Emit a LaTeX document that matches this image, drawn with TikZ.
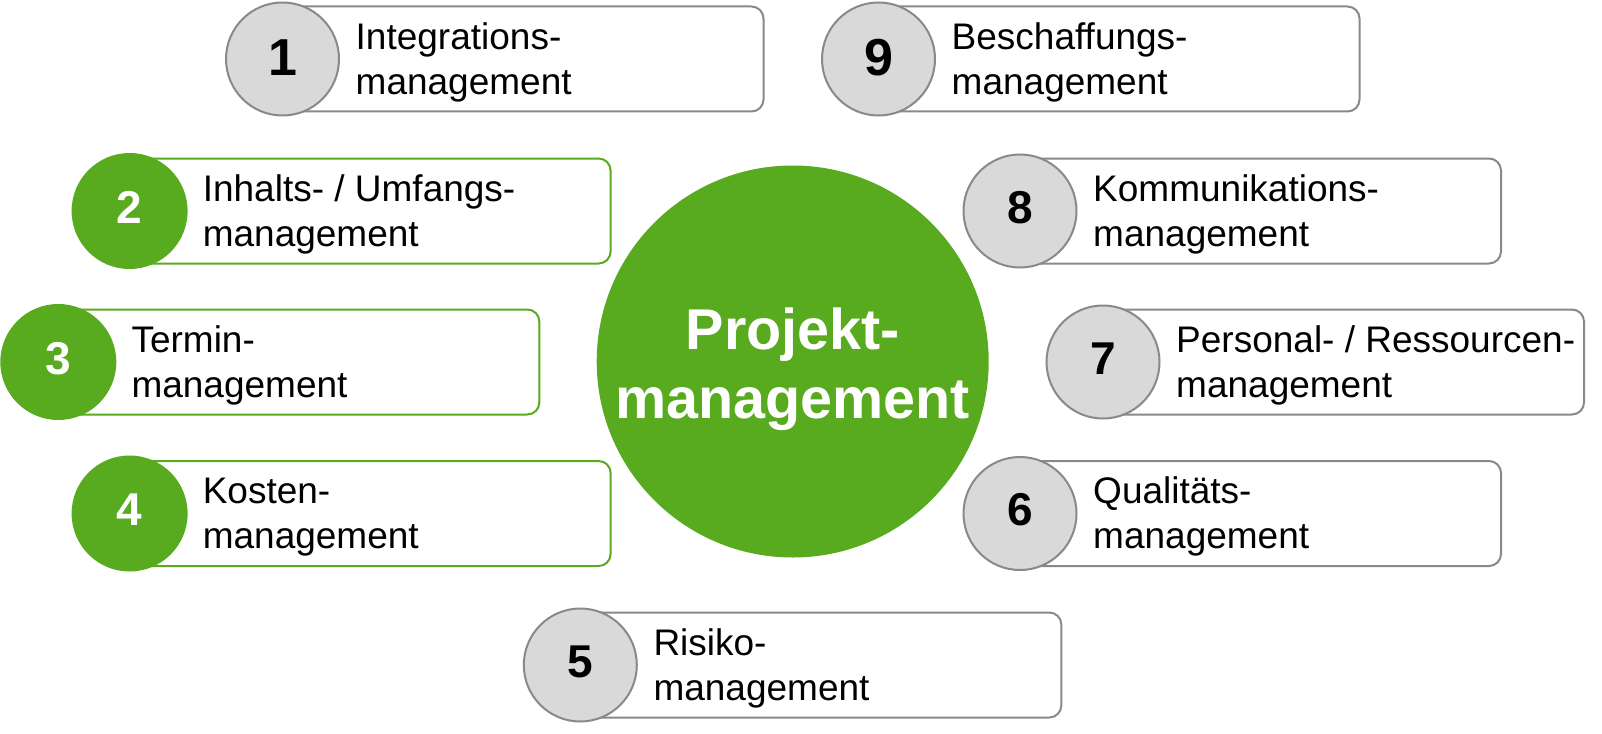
\documentclass[tikz,border=0pt]{standalone}
\usepackage{fontspec}
\setmainfont{Liberation Sans}
\definecolor{pmgreen}{RGB}{88,170,30}
\definecolor{pmgray}{RGB}{217,217,217}
\definecolor{pmline}{RGB}{137,137,137}
\begin{document}
\begin{tikzpicture}[x=1pt,y=-1pt,
 itembox/.style={draw=pmline, line width=2pt, rounded corners=12pt, fill=white,
   minimum height=105pt, minimum width=480pt, anchor=west, inner sep=0pt},
 greenbox/.style={itembox, draw=pmgreen},
 graydot/.style={circle, draw=pmline, line width=2pt, fill=pmgray, minimum size=113pt,
   inner sep=0pt, font=\fontsize{46}{46}\selectfont\bfseries, text=black,
   text height=33pt, text depth=9pt},
 greendot/.style={graydot, draw=none, fill=pmgreen, text=white, minimum size=116pt},
 bigdigit/.style={font=\fontsize{52}{52}\selectfont\bfseries, text height=37pt, text depth=4pt},
 itemtext/.style={anchor=west, align=left, inner sep=0pt, font=\fontsize{37}{45}\selectfont},
]
\useasboundingbox (0,0) rectangle (1602,733);

% center
\node[circle, fill=pmgreen, minimum size=392pt, inner sep=0pt] (pm) at (792.7,361.5) {};
\node[align=center, text=white, inner sep=0pt, font=\fontsize{57.5}{69}\selectfont\bfseries]
  (pmt) at ([yshift=-7.7pt]pm.center) {Projekt-\\management};

% 1
\node[itembox] (b1) at (282.5,59) {};
\node[graydot, bigdigit] (c1) at (282.5,59) {1};
\node[itemtext] (t1) at (355.5,62.4) {Integrations-\\management};
% 9
\node[itembox] (b9) at (878.5,59) {};
\node[graydot, bigdigit] (c9) at (878.5,59) {9};
\node[itemtext] (t9) at (951.5,62.4) {Beschaffungs-\\management};
% 2
\node[greenbox] (b2) at (129.6,211) {};
\node[greendot] (c2) at (129.6,211) {2};
\node[itemtext] (t2) at (202.6,214.4) {Inhalts- / Umfangs-\\management};
% 8
\node[itembox] (b8) at (1020,211) {};
\node[graydot] (c8) at (1020,211) {8};
\node[itemtext] (t8) at (1093,214.4) {Kommunikations-\\management};
% 3
\node[greenbox] (b3) at (58.3,362) {};
\node[greendot] (c3) at (58.3,362) {3};
\node[itemtext] (t3) at (131.3,365.4) {Termin-\\management};
% 7
\node[itembox] (b7) at (1103,362) {};
\node[graydot] (c7) at (1103,362) {7};
\node[itemtext] (t7) at (1176,365.4) {Personal- / Ressourcen-\\management};
% 4
\node[greenbox] (b4) at (129.6,513.5) {};
\node[greendot] (c4) at (129.6,513.5) {4};
\node[itemtext] (t4) at (202.6,516.9) {Kosten-\\management};
% 6
\node[itembox] (b6) at (1020,513.5) {};
\node[graydot] (c6) at (1020,513.5) {6};
\node[itemtext] (t6) at (1093,516.9) {Qualitäts-\\management};
% 5
\node[itembox] (b5) at (580.3,665) {};
\node[graydot] (c5) at (580.3,665) {5};
\node[itemtext] (t5) at (653.3,668.4) {Risiko-\\management};
\end{tikzpicture}
\end{document}
